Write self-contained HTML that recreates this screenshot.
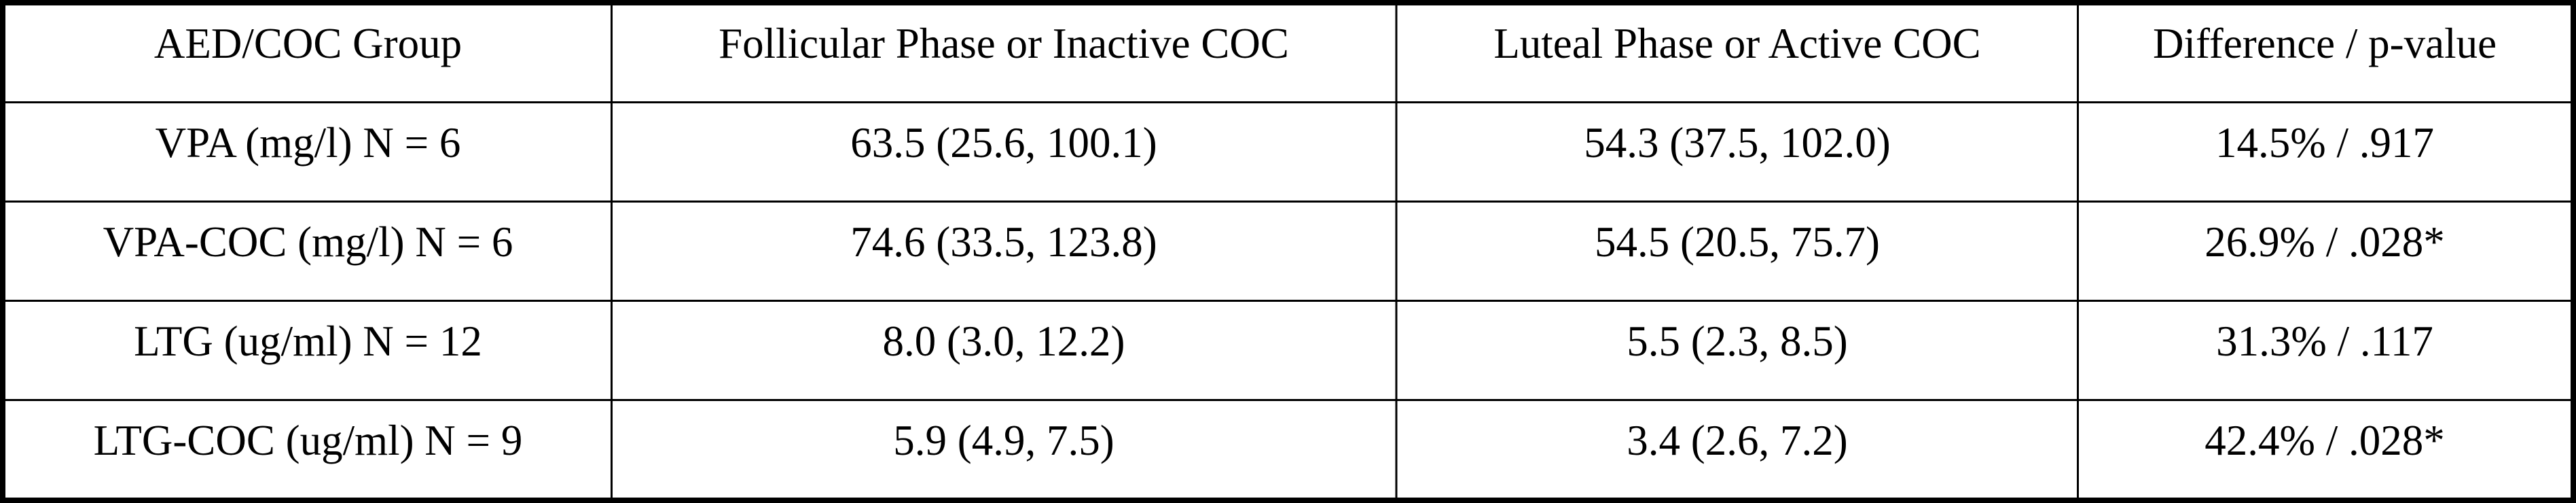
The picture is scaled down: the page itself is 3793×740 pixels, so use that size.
<!DOCTYPE html>
<html>
<head>
<meta charset="utf-8">
<style>
  html, body { margin: 0; padding: 0; background: #ffffff; }
  body { width: 3793px; height: 740px; overflow: hidden; }
  svg { display: block; }
  text { font-family: "Liberation Serif", "Times New Roman", serif; font-size: 63px; fill: #000; }
</style>
</head>
<body>
<svg width="3793" height="740" viewBox="0 0 3793 740" xmlns="http://www.w3.org/2000/svg">
  <rect x="0" y="0" width="3793" height="740" fill="#ffffff"/>
  <!-- outer border -->
  <rect x="0" y="0" width="3793" height="8" fill="#000"/>
  <rect x="0" y="732" width="3793" height="8" fill="#000"/>
  <rect x="0" y="0" width="8" height="740" fill="#000"/>
  <rect x="3785" y="0" width="8" height="740" fill="#000"/>
  <!-- horizontal dividers -->
  <rect x="0" y="149" width="3793" height="3" fill="#000"/>
  <rect x="0" y="295" width="3793" height="3" fill="#000"/>
  <rect x="0" y="441" width="3793" height="3" fill="#000"/>
  <rect x="0" y="587" width="3793" height="3" fill="#000"/>
  <!-- vertical dividers -->
  <rect x="899" y="0" width="3" height="740" fill="#000"/>
  <rect x="2054.5" y="0" width="3" height="740" fill="#000"/>
  <rect x="3058" y="0" width="3" height="740" fill="#000"/>

  <g text-anchor="middle">
    <!-- header -->
    <text x="453.5" y="85">AED/COC Group</text>
    <text x="1478" y="85">Follicular Phase or Inactive COC</text>
    <text x="2558" y="85">Luteal Phase or Active COC</text>
    <text x="3423" y="85">Difference / p-value</text>

    <!-- row 1 -->
    <text x="453.5" y="231">VPA (mg/l) N = 6</text>
    <text x="1478" y="231">63.5 (25.6, 100.1)</text>
    <text x="2558" y="231">54.3 (37.5, 102.0)</text>
    <text x="3423" y="231">14.5% / .917</text>

    <!-- row 2 -->
    <text x="453.5" y="377">VPA-COC (mg/l) N = 6</text>
    <text x="1478" y="377">74.6 (33.5, 123.8)</text>
    <text x="2558" y="377">54.5 (20.5, 75.7)</text>
    <text x="3423" y="377">26.9% / .028*</text>

    <!-- row 3 -->
    <text x="453.5" y="523">LTG (ug/ml) N = 12</text>
    <text x="1478" y="523">8.0 (3.0, 12.2)</text>
    <text x="2558" y="523">5.5 (2.3, 8.5)</text>
    <text x="3423" y="523">31.3% / .117</text>

    <!-- row 4 -->
    <text x="453.5" y="669">LTG-COC (ug/ml) N = 9</text>
    <text x="1478" y="669">5.9 (4.9, 7.5)</text>
    <text x="2558" y="669">3.4 (2.6, 7.2)</text>
    <text x="3423" y="669">42.4% / .028*</text>
  </g>
</svg>
</body>
</html>
